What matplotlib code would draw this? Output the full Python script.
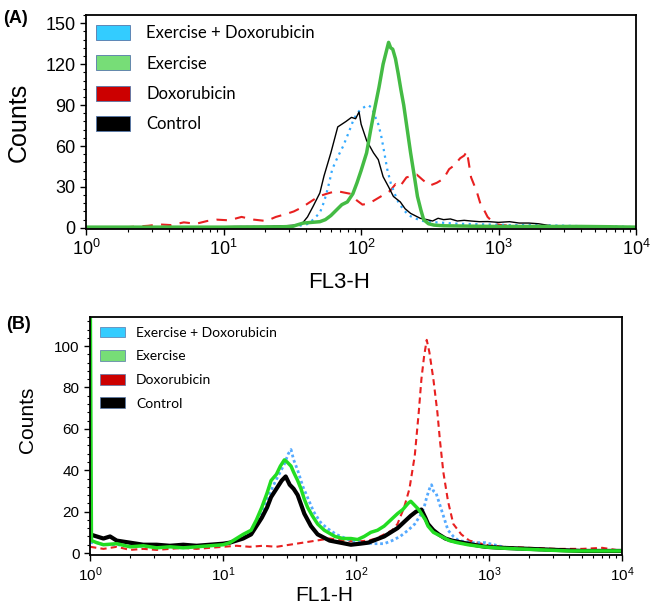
import numpy as np
import matplotlib
matplotlib.use('Agg')
import matplotlib.pyplot as plt
from matplotlib.patches import Patch
from matplotlib.ticker import MultipleLocator, LogLocator, NullFormatter

plt.rcParams['font.family'] = ['Liberation Sans', 'DejaVu Sans']
plt.rcParams['mathtext.default'] = 'regular'

# ---- Panel A (FL3-H), x as log10 channel, y as counts ----
a_ctrl_x = [0.0, 0.3, 0.6, 0.9, 1.1, 1.3, 1.45, 1.52, 1.57, 1.61, 1.65, 1.70, 1.73, 1.78, 1.83, 1.86,
            1.89, 1.93, 1.96, 1.985, 2.0, 2.04, 2.09, 2.125, 2.16, 2.2, 2.235, 2.285, 2.32, 2.36, 2.43,
            2.48, 2.52, 2.56, 2.6, 2.65, 2.7, 2.75, 2.8, 2.86, 2.92, 3.0, 3.08, 3.15, 3.22, 3.29, 3.35,
            3.42, 3.5, 3.7, 4.0]
a_ctrl_y = [0.5, 0.5, 0.8, 0.6, 1, 1, 1.5, 2, 3, 8, 15.6, 25.6, 38, 55, 74, 76,
            78, 81, 80, 85, 76, 64, 55, 50, 37.5, 30, 23, 19, 14, 10.6, 7,
            6, 5, 7, 6, 6.5, 5, 5.5, 5, 4.5, 4.6, 4, 4.5, 3.5, 3.5, 3, 2,
            1, 0.5, 0.5, 0.5]

a_dox_x = [0.0, 0.3, 0.45, 0.53, 0.62, 0.71, 0.8, 0.88, 0.95, 1.04, 1.13, 1.22, 1.31, 1.38, 1.45,
           1.51, 1.57, 1.63, 1.69, 1.75, 1.82, 1.87, 1.92, 1.97, 2.01, 2.06, 2.11, 2.16, 2.21, 2.25,
           2.28, 2.33, 2.37, 2.405, 2.45, 2.5, 2.55, 2.6, 2.64, 2.68, 2.72, 2.75, 2.77, 2.8, 2.84,
           2.87, 2.9, 2.92, 2.95, 2.97, 3.02, 3.2, 3.5, 4.0]
a_dox_y = [0, 0.5, 1.5, 2.5, 2, 4, 3, 5, 6, 5.5, 8, 6, 5, 8, 10,
           12, 15, 19, 23, 25, 27, 26, 25, 20, 17, 18, 21, 24, 27, 32,
           30, 37, 38, 39, 35, 31, 33, 36, 43, 46, 51, 53, 56, 37, 27,
           17, 12, 8, 5, 3, 2, 1, 0.5, 0.3]

a_exdox_x = [0.0, 0.5, 1.0, 1.4, 1.55, 1.62, 1.66, 1.70, 1.73, 1.75, 1.77, 1.79, 1.83, 1.87, 1.91,
             1.94, 1.97, 2.0, 2.03, 2.05, 2.08, 2.1, 2.125, 2.145, 2.16, 2.19, 2.215, 2.24, 2.27,
             2.31, 2.35, 2.39, 2.45, 2.55, 2.7, 2.9, 3.1, 3.3, 3.5, 3.7, 3.85, 4.0]
a_exdox_y = [0.5, 0.5, 0.5, 0.8, 1.5, 3, 7, 11, 19, 26, 34, 43, 52, 60, 70,
             78, 84, 87, 89, 90, 88, 82, 76, 68, 60, 43, 33, 26, 19,
             13, 9, 7, 5, 4, 3, 2.5, 2, 2, 1.5, 1, 1, 0.5]

a_ex_x = [0.0, 0.5, 1.0, 1.4, 1.5, 1.53, 1.58, 1.64, 1.70, 1.74, 1.78, 1.82, 1.86, 1.9, 1.94, 1.97,
          2.0, 2.04, 2.07, 2.1, 2.13, 2.16, 2.18, 2.2, 2.215, 2.23, 2.25, 2.27, 2.29, 2.31, 2.33,
          2.36, 2.39, 2.41, 2.435, 2.455, 2.49, 2.53, 2.6, 2.8, 3.0, 3.3, 3.6, 3.8, 4.0]
a_ex_y = [0.5, 0.5, 0.5, 0.7, 1, 2, 3.5, 4, 4.5, 6, 9, 13, 17, 19, 25, 33,
          42, 55, 72, 88, 103, 120, 128, 136, 132, 131, 124, 113, 101, 90, 76,
          55, 36, 23, 13, 6, 3, 2, 1.5, 1.2, 1, 1, 1, 0.8, 0.5]

# ---- Panel B (FL1-H) ----
b_dox_x = [0.0, 0.1, 0.2, 0.3, 0.4, 0.5, 0.6, 0.7, 0.8, 0.9, 1.0, 1.1, 1.2, 1.3, 1.4, 1.5, 1.6,
           1.7, 1.8, 1.9, 2.0, 2.09, 2.15, 2.21, 2.27, 2.31, 2.36, 2.4, 2.44, 2.47, 2.49, 2.51,
           2.53, 2.55, 2.58, 2.61, 2.63, 2.655, 2.69, 2.73, 2.79, 2.85, 2.97, 3.1, 3.3, 3.5,
           3.7, 3.85, 4.0]
b_dox_y = [3, 2, 3, 1.5, 2, 1.5, 2, 2.5, 2, 2.5, 3, 3.5, 3, 3.5, 3, 4, 5,
           6, 7, 6, 5.5, 6, 7, 9, 11, 14, 22, 31, 47, 68, 84, 95,
           103, 97, 84, 68, 54, 39, 25, 14, 9, 6, 4, 3, 2.5, 2,
           2, 2.5, 1]

b_exdox_x = [0.0, 0.05, 0.1, 0.2, 0.3, 0.5, 0.7, 0.9, 1.0, 1.1, 1.2, 1.28, 1.33, 1.38, 1.42, 1.46,
             1.49, 1.51, 1.53, 1.56, 1.6, 1.64, 1.68, 1.73, 1.78, 1.85, 1.96, 2.05, 2.13, 2.21,
             2.27, 2.33, 2.39, 2.44, 2.48, 2.51, 2.53, 2.556, 2.566, 2.58, 2.6, 2.62, 2.64, 2.67,
             2.69, 2.73, 2.77, 2.87, 2.97, 3.1, 3.2, 3.4, 3.7, 4.0]
b_exdox_y = [5, 5, 4, 4, 3.5, 3, 3, 3.5, 4, 6, 10, 18, 26, 33, 38, 43,
             48, 50, 45, 40, 32, 26, 20, 15, 12, 9, 6, 5, 4.5, 4.5,
             6, 8, 11, 14, 18, 22, 27, 32, 33, 30, 29, 25, 21, 15,
             11, 8, 6, 5, 5, 3, 2, 1.5, 1, 1]

b_ctrl_x = [0.0, 0.05, 0.1, 0.15, 0.2, 0.3, 0.4, 0.5, 0.6, 0.7, 0.8, 0.9, 1.0, 1.05, 1.1, 1.15,
            1.21, 1.25, 1.29, 1.33, 1.36, 1.4, 1.44, 1.47, 1.5, 1.53, 1.56, 1.61, 1.66, 1.71,
            1.8, 1.88, 1.96, 2.03, 2.09, 2.15, 2.21, 2.26, 2.31, 2.36, 2.41, 2.45, 2.49, 2.52,
            2.54, 2.58, 2.62, 2.67, 2.72, 2.8, 2.88, 2.97, 3.1, 3.3, 3.5, 3.7, 4.0]
b_ctrl_y = [9, 8, 7, 8, 6, 5, 4, 4, 3.5, 4, 3.5, 4, 4.5, 5, 6, 7,
            9, 13, 17, 22, 27, 31, 35, 37, 33, 31, 28, 19, 13, 9,
            6, 5, 4, 4.5, 5, 6.5, 8, 10, 12, 15, 18, 20, 21, 17,
            14, 11, 9, 7, 6, 5, 4, 3, 2.5, 2, 1.5, 1, 1]

b_ex_x = [0.0, 0.01, 0.05, 0.1, 0.2, 0.3, 0.4, 0.5, 0.6, 0.7, 0.8, 0.9, 1.0, 1.05, 1.1, 1.15, 1.21,
          1.25, 1.29, 1.33, 1.36, 1.4, 1.43, 1.46, 1.48, 1.51, 1.53, 1.56, 1.585, 1.61, 1.635,
          1.67, 1.71, 1.76, 1.84, 1.9, 1.96, 2.01, 2.06, 2.11, 2.16, 2.21, 2.26, 2.31, 2.35,
          2.39, 2.41, 2.44, 2.47, 2.49, 2.52, 2.54, 2.58, 2.64, 2.7, 2.76, 2.84, 2.95, 3.05,
          3.21, 3.4, 3.6, 3.8, 4.0]
b_ex_y = [140, 6, 5, 4, 4.5, 3, 3.5, 2.5, 3, 2.5, 3, 3.5, 4, 5, 7, 9, 11,
          16, 22, 29, 35, 38, 42, 45, 44, 42, 39, 35, 31, 26, 22,
          18, 14, 11, 8, 7, 7, 6.5, 8, 10, 11, 13, 16, 19, 21,
          24, 25, 23, 21, 19, 16, 13, 10, 8, 6, 5, 4, 3, 2.5,
          2, 1.5, 1, 1, 1]

labels = ['Exercise + Doxorubicin', 'Exercise', 'Doxorubicin', 'Control']
patch_colors = ['#33CCFF', '#77DD77', '#CC0000', '#000000']


def lin(v):
    return 10 ** np.array(v)


def style_axis(ax, ymax, ymaj, ymin, tick_fs):
    ax.set_xscale('log')
    ax.set_xlim(1, 1e4)
    ax.set_ylim(-1, ymax)
    ax.yaxis.set_major_locator(MultipleLocator(ymaj))
    ax.yaxis.set_minor_locator(MultipleLocator(ymin))
    ax.xaxis.set_major_locator(LogLocator(base=10, numticks=10))
    ax.xaxis.set_minor_locator(LogLocator(base=10, subs=np.arange(2, 10), numticks=10))
    ax.xaxis.set_minor_formatter(NullFormatter())
    ax.tick_params(which='major', length=4, width=1, labelsize=tick_fs)
    ax.tick_params(which='minor', length=2.5, width=0.8)
    for s in ax.spines.values():
        s.set_linewidth(1.3)


fig = plt.figure(figsize=(6.53, 6.04), dpi=100)

# Panel A
axA = fig.add_axes([0.132, 0.621, 0.842, 0.354])
axA.plot(lin(a_dox_x), a_dox_y, color='#E82020', lw=1.5, ls=(0, (5, 4)))
axA.plot(lin(a_exdox_x), a_exdox_y, color='#33AAFF', lw=1.6, ls=(0, (1, 2)))
axA.plot(lin(a_ctrl_x), a_ctrl_y, color='black', lw=1.0)
axA.plot(lin(a_ex_x), a_ex_y, color='#44BB44', lw=2.5)
style_axis(axA, 156, 30, 6, 13)
axA.set_ylim(-0.8, 156)
axA.set_ylabel('Counts', fontsize=18)
axA.yaxis.set_label_coords(-0.10, 0.5)
axA.set_xlabel('FL3-H', fontsize=16)
axA.xaxis.set_label_coords(0.46, -0.2)
handlesA = [Patch(facecolor=c, edgecolor='#5577AA', lw=0.6) for c in patch_colors]
axA.legend(handlesA, labels, loc='upper left', frameon=False, prop={'family': 'Lato', 'size': 12},
           handlelength=2.0, handleheight=1.0, labelspacing=0.85, handletextpad=1.0,
           borderaxespad=0.2, bbox_to_anchor=(0.0, 1.0))
fig.text(0.005, 0.962, '(A)', fontsize=13, fontweight='bold')

# Panel B
axB = fig.add_axes([0.138, 0.081, 0.815, 0.394])
axB.plot(lin(b_dox_x), b_dox_y, color='#E82020', lw=1.5, ls=(0, (3, 2)))
axB.plot(lin(b_exdox_x), b_exdox_y, color='#55AAFF', lw=2.0, ls=(0, (1, 1)))
axB.plot(lin(b_ctrl_x), b_ctrl_y, color='black', lw=3.0)
axB.plot(lin(b_ex_x), b_ex_y, color='#22DD22', lw=2.5)
style_axis(axB, 114, 20, 4, 11)
axB.set_ylabel('Counts', fontsize=15)
axB.yaxis.set_label_coords(-0.10, 0.57)
axB.set_xlabel('FL1-H', fontsize=15)
axB.xaxis.set_label_coords(0.44, -0.13)
handlesB = [Patch(facecolor=c, edgecolor='#5577AA', lw=0.5) for c in patch_colors]
axB.legend(handlesB, labels, loc='upper left', frameon=False, prop={'family': 'Lato', 'size': 10},
           handlelength=1.8, handleheight=0.8, labelspacing=0.82, handletextpad=0.8,
           borderaxespad=0.3, bbox_to_anchor=(0.0, 1.0))
fig.text(0.01, 0.455, '(B)', fontsize=13, fontweight='bold')

fig.savefig('out.png', dpi=100)
